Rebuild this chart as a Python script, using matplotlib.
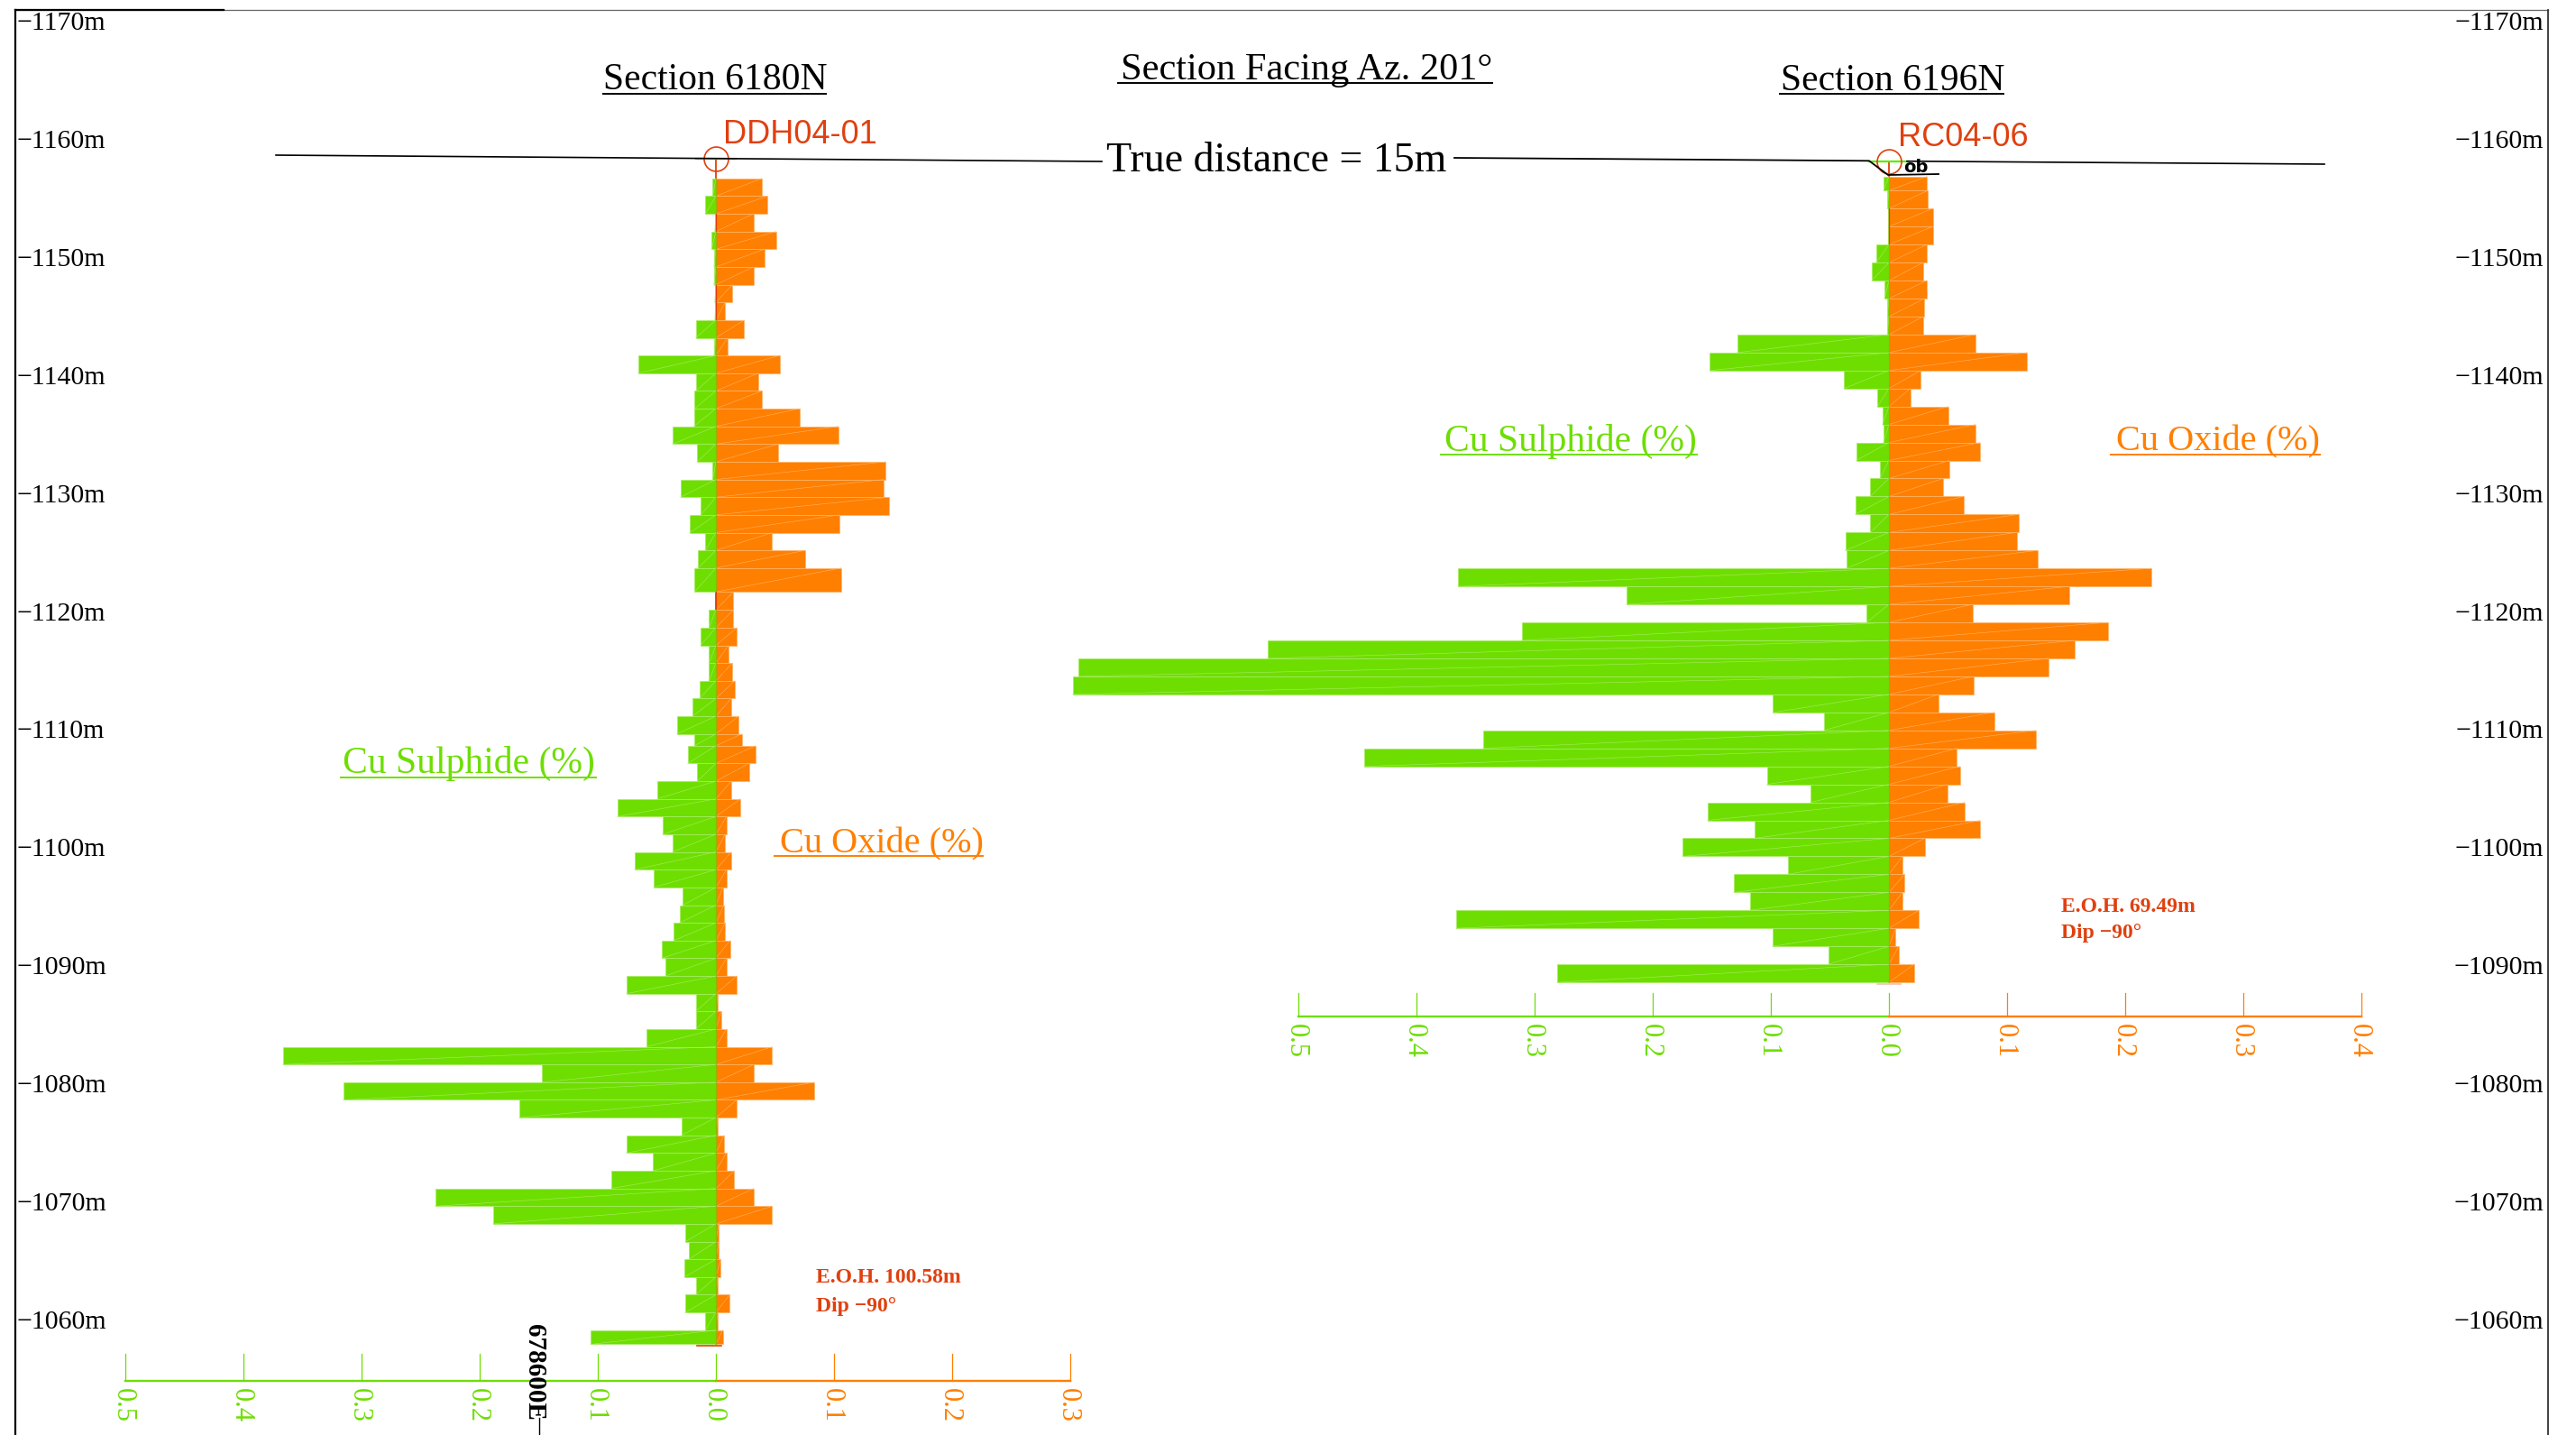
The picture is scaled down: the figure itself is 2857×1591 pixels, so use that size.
import matplotlib
matplotlib.use("Agg")
import matplotlib.pyplot as plt

# interval boundaries (elevation, top of each bar + end of hole) and grades
left_elev = [1156.65, 1155.15, 1153.65, 1152.15, 1150.65, 1149.15, 1147.65, 1146.15, 1144.65, 1143.15,
             1141.65, 1140.15, 1138.65, 1137.15, 1135.65, 1134.15, 1132.65, 1131.15, 1129.65, 1128.15,
             1126.65, 1125.15, 1123.65, 1121.63, 1120.1, 1118.6, 1117.1, 1115.6, 1114.1, 1112.6,
             1111.1, 1109.6, 1108.6, 1107.1, 1105.6, 1104.1, 1102.6, 1101.1, 1099.6, 1098.1,
             1096.6, 1095.1, 1093.6, 1092.1, 1090.6, 1089.1, 1087.6, 1086.1, 1084.6, 1083.1,
             1081.6, 1080.1, 1078.6, 1077.1, 1075.6, 1074.1, 1072.6, 1071.1, 1069.6, 1068.1,
             1066.6, 1065.1, 1063.6, 1062.1, 1060.6, 1059.1, 1057.9]
left_oxide = [.0389, .0436, .0317, .0508, .0409, .0317, .014, .0078, .0239, .0099,
              .0539, .0358, .0389, .0709, .1036, .0528, .1437, .142, .1465, .1047,
              .0477, .0757, .106, .0147, .0147, .0177, .0106, .014, .016, .013,
              .0191, .0218, .0337, .0279, .013, .0208, .0089, .0078, .013, .0089,
              .0058, .0068, .0078, .0119, .0089, .0177, .0017, .0044, .0088, .0477,
              .0321, .0833, .0175, .0015, .0068, .0088, .0156, .0321, .0477, .0024,
              .0024, .0039, .0015, .0117, .0015, .0058]
left_sulphide = [.0027, .0089, .001, .0037, .0017, .0017, .001, .001, .017, .0017,
                 .0658, .017, .018, .0187, .0368, .0157, .0027, .03, .0129, .0218,
                 .0089, .015, .018, 0, .0058, .013, .0058, .0058, .014, .0198,
                 .0331, .0181, .0239, .0157, .0498, .0832, .045, .0368, .0688, .0528,
                 .0279, .0307, .0358, .046, .0429, .0757, .017, .017, .0589, .3666,
                 .147, .3155, .1665, .0292, .0759, .0531, .0886, .2376, .1889, .0258,
                 .0229, .0268, .017, .0258, .0088, .1061]

right_elev = [1156.81, 1155.62, 1154.10, 1152.57, 1151.05, 1149.52, 1148.00, 1146.48, 1144.95, 1143.43,
              1141.90, 1140.38, 1138.86, 1137.33, 1135.81, 1134.28, 1132.76, 1131.24, 1129.71, 1128.19,
              1126.66, 1125.14, 1123.62, 1122.09, 1120.57, 1119.04, 1117.52, 1116.00, 1114.47, 1112.95,
              1111.42, 1109.90, 1108.38, 1106.85, 1105.33, 1103.80, 1102.28, 1100.76, 1099.23, 1097.71,
              1096.18, 1094.66, 1093.14, 1091.61, 1090.09, 1088.56]
right_oxide = [.0321, .033, .0371, .0371, .0321, .0289, .0321, .0301, .0289, .0733,
               .1169, .0269, .0181, .05, .0733, .0771, .0511, .0459, .0631, .1098,
               .1081, .1259, .2222, .1525, .0709, .1854, .1576, .1348, .0715, .0418,
               .0892, .1241, .0576, .0601, .0494, .0639, .0772, .0304, .0114, .0133,
               .0114, .0253, .0057, .0082, .0215]
right_sulphide = [.0047, .0015, .0006, .0006, .0108, .0146, .0038, .0015, .0015, .1285,
                  .1516, .038, .0096, .0055, .0047, .0278, .0076, .0158, .0286, .0158,
                  .0368, .0359, .3646, .2222, .019, .3108, .5259, .6861, .6911, .0981,
                  .0551, .3437, .4443, .1032, .0665, .1538, .1139, .1747, .0854, .1316,
                  .1177, .3665, .0987, .0513, .281]

elev_ticks = [1170, 1160, 1150, 1140, 1130, 1120, 1110, 1100, 1090, 1080, 1070, 1060]
left_scale_sul = [0.5, 0.4, 0.3, 0.2, 0.1, 0.0]
left_scale_ox = [0.0, 0.1, 0.2, 0.3]
right_scale_sul = [0.5, 0.4, 0.3, 0.2, 0.1, 0.0]
right_scale_ox = [0.0, 0.1, 0.2, 0.3, 0.4]

GREEN = "#6EDE00"
ORANGE = "#FF7F00"
PALE_GREEN = "#A8EC66"
PALE_ORANGE = "#FFB468"
RED = "#E0400F"
OLIVE = "#8FB800"
SERIF = "Liberation Serif"

W, H = 2857, 1591
fig = plt.figure(figsize=(W / 100, H / 100), dpi=100)
fig.patch.set_facecolor("#ffffff")

# frame runs from x=17 to x=2826, top at y=11, open at the bottom
pos = [17 / W, 0, (2826 - 17) / W, (H - 11) / H]
PX_PER_UNIT = 1310
ylims = (1050.22, 1170.92)

ax = fig.add_axes(pos)
ax.set_xlim((17 - 794) / PX_PER_UNIT, (2826 - 794) / PX_PER_UNIT)
ax_r = fig.add_axes(pos)
ax_r.set_xlim((17 - 2095) / PX_PER_UNIT, (2826 - 2095) / PX_PER_UNIT)
ax_r.patch.set_alpha(0)

tick_labels = ["\u2212%dm" % v for v in elev_ticks]
for a in (ax, ax_r):
    a.set_ylim(*ylims)
    a.set_xticks([])
    a.set_yticks(elev_ticks)
    a.set_yticklabels(tick_labels, fontfamily=SERIF, fontsize=21.5, va="center_baseline")

ax.tick_params(axis="y", length=0, pad=-1)
for t in ax.get_yticklabels():
    t.set_ha("left")
ax_r.yaxis.tick_right()
ax_r.tick_params(axis="y", length=0, pad=-3.6)
for t in ax_r.get_yticklabels():
    t.set_ha("right")

for s in ax.spines.values():
    s.set_visible(False)
for s in ax_r.spines.values():
    s.set_visible(False)
ax.spines["left"].set_visible(True)
ax.spines["left"].set_linewidth(1.6)
ax.spines["top"].set_visible(True)
ax.spines["top"].set_linewidth(0.9)
ax.spines["top"].set_color("#666666")
ax_r.spines["right"].set_visible(True)
ax_r.spines["right"].set_linewidth(1.3)
ax_r.spines["right"].set_color("#333333")


def draw_hole(a, elev, oxide, sulphide, collar, scale_y, scale_top, sul_ticks, ox_ticks):
    tops = elev[:-1]
    bottoms = elev[1:]
    mids = [(t + b) / 2 for t, b in zip(tops, bottoms)]
    heights = [t - b for t, b in zip(tops, bottoms)]

    # trace of the hole, red, sits under the bars
    a.plot([0, 0], [collar, elev[-1]], color=RED, lw=1.3, zorder=1)

    a.barh(mids, oxide, height=heights, color=ORANGE, edgecolor=PALE_ORANGE, linewidth=0.5, zorder=2)
    a.barh(mids, [-s for s in sulphide], height=heights, color=GREEN, edgecolor=PALE_GREEN,
           linewidth=0.5, zorder=2)
    for t, b, o, s in zip(tops, bottoms, oxide, sulphide):
        a.plot([0, o], [b, t], color=PALE_ORANGE, lw=0.4, zorder=3)
        a.plot([-s, 0], [b, t], color=PALE_GREEN, lw=0.4, zorder=3)
        # where there is sulphide the trace reads olive, otherwise it stays red
        a.plot([0, 0], [b, t], color=OLIVE if s > 0.001 else RED, lw=0.9, zorder=3)

    # collar
    a.plot([-0.017, 0.017], [collar, collar], color="#55F000", lw=1.6, zorder=4)
    a.plot([0], [collar], marker="o", ms=19.4, mfc="none", mec=RED, mew=1.2, zorder=5)

    # grade scales under the hole
    a.plot([-max(sul_ticks), 0], [scale_y, scale_y], color=GREEN, lw=1.7, zorder=2)
    a.plot([0, max(ox_ticks)], [scale_y, scale_y], color=ORANGE, lw=1.7, zorder=2)
    for v in sul_ticks:
        a.plot([-v, -v], [scale_y, scale_top], color=GREEN, lw=0.9)
        a.annotate("%.1f" % v, (-v, scale_y), xytext=(-2, -6), textcoords="offset points",
                   rotation=270, ha="center", va="top", color=GREEN,
                   fontfamily=SERIF, fontsize=22)
    for v in ox_ticks:
        if v == 0:
            continue
        a.plot([v, v], [scale_y, scale_top], color=ORANGE, lw=0.9)
        a.annotate("%.1f" % v, (v, scale_y), xytext=(-2, -6), textcoords="offset points",
                   rotation=270, ha="center", va="top", color=ORANGE,
                   fontfamily=SERIF, fontsize=22)


draw_hole(ax, left_elev, left_oxide, left_sulphide, 1158.33, 1054.8, 1057.1, left_scale_sul, left_scale_ox)
draw_hole(ax_r, right_elev, right_oxide, right_sulphide, 1158.08, 1085.66, 1087.65, right_scale_sul, right_scale_ox)

# end of hole ticks
ax.plot([-0.016, 0.0045], [1057.75, 1057.75], color=RED, lw=1.2, zorder=4)
ax_r.plot([-0.01, 0.01], [1088.45, 1088.45], color="#F5C0B0", lw=1.2, zorder=4)

for a in (ax, ax_r):
    a.set_ylim(*ylims)

# overlay in picture pixels for the drawing annotations
ov = fig.add_axes([0, 0, 1, 1])
ov.set_xlim(0, W)
ov.set_ylim(H, 0)
ov.axis("off")
ov.patch.set_alpha(0)

ov.plot([17, 248], [11, 11], color="black", lw=1.6)

# ground surface
ov.plot([306, 1222], [172, 179], color="black", lw=1.2)
ov.plot([1613, 2073, 2094, 2150], [175, 178.3, 194, 193], color="black", lw=1.3)
ov.plot([2115, 2578], [178.7, 182], color="black", lw=1.2)
ov.text(2125, 191, "ob", ha="center", va="baseline", fontsize=14, fontweight="bold",
        fontfamily="DejaVu Sans", color="black")


def label(x, y, s, color, size, x0=None, x1=None, under=None, ha="left", **kw):
    ov.text(x, y, s, ha=ha, va="baseline", color=color, fontsize=size, fontfamily=SERIF, **kw)
    if under is not None:
        ov.plot([x0, x1], [under, under], color=color, lw=1.4)


label(793, 99, "Section 6180N", "black", 30, 669, 916, 104, ha="center")
label(1449, 88, "Section Facing Az. 201\u00b0", "black", 30.5, 1240, 1655, 92, ha="center")
label(2099, 100, "Section 6196N", "black", 30, 1974, 2222, 104, ha="center")
label(1416, 190, "True distance = 15m", "black", 33, ha="center")

label(380, 857, "Cu Sulphide (%)", GREEN, 30, 378, 661, 862)
label(865, 945, "Cu Oxide (%)", ORANGE, 29, 859, 1090, 949)
label(1602, 500, "Cu Sulphide (%)", GREEN, 30, 1598, 1882, 504)
label(2347, 499, "Cu Oxide (%)", ORANGE, 29, 2341, 2573, 504)

label(905, 1422, "E.O.H. 100.58m", RED, 17, fontweight="bold")
label(905, 1454, "Dip \u221290\u00b0", RED, 17, fontweight="bold")
label(2286, 1011, "E.O.H. 69.49m", RED, 17, fontweight="bold")
label(2286, 1040, "Dip \u221290\u00b0", RED, 17, fontweight="bold")

ov.text(802, 158.6, "DDH04-01", color=RED, fontsize=26, fontfamily="Liberation Sans", ha="left", va="baseline")
ov.text(2105, 162, "RC04-06", color=RED, fontsize=26, fontfamily="Liberation Sans", ha="left", va="baseline")

ov.text(592, 1468, "678600E", rotation=270, ha="center", va="top", color="black",
        fontsize=21, fontfamily=SERIF, fontweight="bold")
ov.plot([597.5, 597.5], [1572, 1591], color="black", lw=1.0)

fig.savefig("out.png", dpi=100, facecolor="white")
